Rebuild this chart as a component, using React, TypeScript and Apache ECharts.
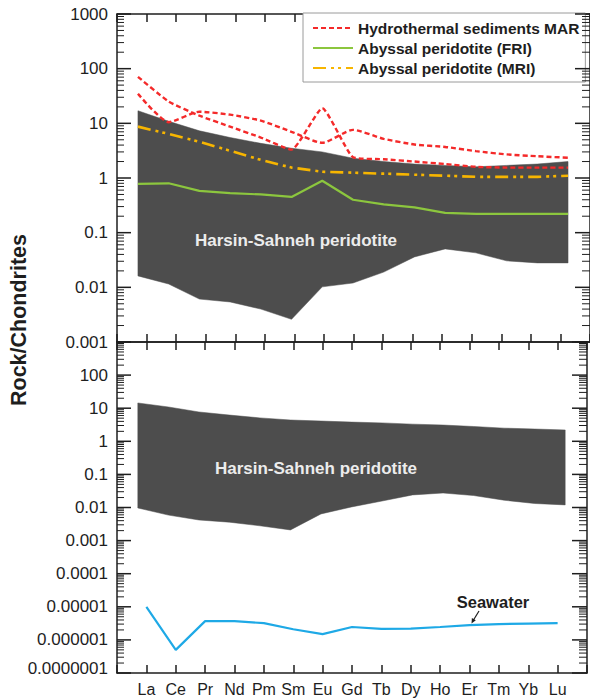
import React, { useEffect, useRef } from 'react';
import * as echarts from 'echarts';

// ---- categories ----
const ELEMENTS = ['La', 'Ce', 'Pr', 'Nd', 'Pm', 'Sm', 'Eu', 'Gd', 'Tb', 'Dy', 'Ho', 'Er', 'Tm', 'Yb', 'Lu'];

// ---- upper panel series (Rock/Chondrites) ----
const HYDRO_A = [71, 25, 13.8, 8.7, 5.5, 3.3, 19, 2.4, 2.2, 2.0, 1.8, 1.6, 1.55, 1.55, 1.55];
const HYDRO_B = [34.8, 10.5, 16.3, 14.4, 11.2, 7.0, 4.4, 7.6, 5.2, 4.1, 3.7, 3.1, 2.7, 2.5, 2.35];
const FRI = [0.78, 0.8, 0.58, 0.53, 0.5, 0.45, 0.89, 0.4, 0.33, 0.29, 0.23, 0.22, 0.22, 0.22, 0.22];
const MRI = [8.7, 6.4, 4.6, 3.15, 2.15, 1.55, 1.3, 1.25, 1.2, 1.15, 1.1, 1.05, 1.05, 1.05, 1.1];
const TOP_BAND_UPPER = [17.0, 10.9, 7.3, 5.5, 4.3, 3.5, 3.0, 2.3, 2.0, 1.8, 1.7, 1.6, 1.7, 1.8, 2.0];
const TOP_BAND_LOWER = [0.0162, 0.0115, 0.0061, 0.0054, 0.004, 0.0026, 0.0102, 0.012, 0.019, 0.036, 0.0505, 0.0427, 0.0305, 0.028, 0.028];

// ---- lower panel series ----
const BOTTOM_BAND_UPPER = [14.4, 10.9, 7.7, 6.2, 5.1, 4.4, 4.1, 3.8, 3.6, 3.3, 3.1, 2.8, 2.5, 2.35, 2.2];
const BOTTOM_BAND_LOWER = [0.0097, 0.0059, 0.0042, 0.0036, 0.0028, 0.0021, 0.0064, 0.0104, 0.0157, 0.024, 0.0274, 0.023, 0.0166, 0.0132, 0.012];
const SEAWATER = [1.0e-5, 5.0e-7, 3.7e-6, 3.7e-6, 3.2e-6, 2.1e-6, 1.5e-6, 2.45e-6, 2.15e-6, 2.2e-6, 2.45e-6, 2.8e-6, 3.0e-6, 3.1e-6, 3.2e-6];

// ---- tick labels ----
const TOP_Y_LABELS = ['0.001', '0.01', '0.1', '1', '10', '100', '1000'];
const BOTTOM_Y_LABELS = ['0.0000001', '0.000001', '0.00001', '0.0001', '0.001', '0.01', '0.1', '1', '10', '100', ''];

const FONT = '"Liberation Sans", Arial, Helvetica, sans-serif';
const INK = '#1e1e1e';
const BAND = '#4d4d4d';

function logTickData(minExp: number, maxExp: number) {
  const out: number[][] = [];
  for (let e = minExp; e <= maxExp; e++) {
    out.push([0, Math.pow(10, e), 1]);
    if (e < maxExp) {
      for (let m = 2; m <= 9; m++) out.push([0, m * Math.pow(10, e), 0]);
    }
  }
  return out;
}

const tickRender = (params: any, api: any) => {
  const v = api.value(1);
  const major = api.value(2) === 1;
  const pl = api.coord([0, v]);
  const pr = api.coord([16, v]);
  const ll = major ? 14 : 7;
  const lr = major ? 15 : 8;
  const st = { stroke: INK, lineWidth: major ? 1.5 : 1 };
  return {
    type: 'group',
    children: [
      { type: 'line', shape: { x1: pl[0], y1: pl[1], x2: pl[0] + ll, y2: pl[1] }, style: st },
      { type: 'line', shape: { x1: pr[0] - lr, y1: pr[1], x2: pr[0], y2: pr[1] }, style: st },
    ],
  };
};

const bandRender = (upper: number[], lower: number[]) => (params: any, api: any) => {
  const pts: number[][] = [];
  upper.forEach((v, i) => pts.push(api.coord([i + 1, v])));
  for (let i = lower.length - 1; i >= 0; i--) pts.push(api.coord([i + 1, lower[i]]));
  return { type: 'polygon', shape: { points: pts }, style: { fill: BAND, stroke: BAND, lineWidth: 0.5 } };
};

const toXY = (arr: number[]) => arr.map((v, i) => [i + 1, v]);

// Grid geometry
const GL = 117;
const GW = 474;

function xFrame(gridIndex: number, position: string, labels: boolean) {
  return {
    type: 'value',
    gridIndex,
    position,
    min: 0,
    max: 16,
    interval: 1,
    axisLine: { show: true, onZero: false, lineStyle: { color: INK, width: 1.5 } },
    axisTick: { show: true, inside: true, length: 8, lineStyle: { color: INK, width: 1.5 } },
    axisLabel: labels
      ? {
          show: true,
          margin: 8,
          fontSize: 16,
          fontFamily: FONT,
          color: INK,
          formatter: (v: number) => ELEMENTS[v - 1] ?? '',
        }
      : { show: false },
    splitLine: { show: false },
  };
}

function xHidden(gridIndex: number) {
  return { type: 'value', gridIndex, min: 0.318, max: 15.715, show: false, splitLine: { show: false } };
}

function yAxis(gridIndex: number, position: string, minExp: number, maxExp: number, labels: string[] | null) {
  return {
    type: 'log',
    logBase: 10,
    gridIndex,
    position,
    min: Math.pow(10, minExp),
    max: Math.pow(10, maxExp),
    interval: 1,
    axisLine: { show: true, onZero: false, lineStyle: { color: INK, width: 1.5 } },
    axisTick: { show: false },
    minorTick: { show: false },
    splitLine: { show: false },
    axisLabel: labels
      ? {
          show: true,
          margin: 9,
          fontSize: 17,
          fontFamily: FONT,
          color: INK,
          formatter: (v: number) => {
            const e = Math.round(Math.log10(v));
            const s = labels[e - minExp] ?? '';
            if (e === -7 && s) return '{lo|' + s + '}';
            return s;
          },
          rich: {
            lo: { fontSize: 17, fontFamily: FONT, color: INK, padding: [0, 0, 10, 0] },
          },
        }
      : { show: false },
  };
}

export default function App() {
  const ref = useRef<HTMLDivElement>(null);

  useEffect(() => {
    if (!ref.current) return;
    const chart = echarts.init(ref.current, undefined, { renderer: 'svg' });

    const option: any = {
      animation: false,
      backgroundColor: '#ffffff',
      grid: [
        { left: GL, top: 14, width: GW, height: 328 },
        { left: GL, top: 342, width: GW, height: 331 },
      ],
      xAxis: [
        xFrame(0, 'bottom', false),
        xFrame(0, 'top', false),
        xHidden(0),
        xFrame(1, 'bottom', true),
        xFrame(1, 'top', false),
        xHidden(1),
      ],
      yAxis: [
        yAxis(0, 'left', -3, 3, TOP_Y_LABELS),
        yAxis(0, 'right', -3, 3, null),
        yAxis(1, 'left', -7, 3, BOTTOM_Y_LABELS),
        yAxis(1, 'right', -7, 3, null),
      ],
      legend: {
        orient: 'vertical',
        left: 303,
        top: 13,
        itemWidth: 40,
        itemHeight: 14,
        itemGap: 4,
        padding: [7, 6, 6, 9],
        backgroundColor: '#ffffff',
        borderColor: '#9a9a9a',
        borderWidth: 1,
        selectedMode: false,
        itemStyle: { opacity: 0, borderWidth: 0 },
        textStyle: { fontFamily: FONT, fontSize: 15.5, fontWeight: 'bold', color: INK, lineHeight: 16 },
        data: ['Hydrothermal sediments MAR', 'Abyssal peridotite (FRI)', 'Abyssal peridotite (MRI)'],
      },
      graphic: [
        {
          type: 'text',
          x: 296,
          y: 240,
          z: 50,
          style: { text: 'Harsin-Sahneh peridotite', fill: '#ececec', fontSize: 17, fontWeight: 'bold', fontFamily: FONT, align: 'center', verticalAlign: 'middle' },
        },
        {
          type: 'text',
          x: 316,
          y: 468,
          z: 50,
          style: { text: 'Harsin-Sahneh peridotite', fill: '#ececec', fontSize: 17, fontWeight: 'bold', fontFamily: FONT, align: 'center', verticalAlign: 'middle' },
        },
        {
          type: 'text',
          x: 19,
          y: 320,
          rotation: Math.PI / 2,
          style: { text: 'Rock/Chondrites', fill: INK, fontSize: 21.5, fontWeight: 'bold', fontFamily: FONT, align: 'center', verticalAlign: 'middle' },
        },
        {
          type: 'text',
          x: 493,
          y: 602,
          z: 50,
          style: { text: 'Seawater', fill: INK, fontSize: 16.5, fontWeight: 'bold', fontFamily: FONT, align: 'center', verticalAlign: 'middle' },
        },
        {
          type: 'line',
          z: 50,
          shape: { x1: 479, y1: 611, x2: 473.5, y2: 620 },
          style: { stroke: INK, lineWidth: 1.2 },
        },
        {
          type: 'polygon',
          z: 50,
          shape: { points: [[471.5, 623.5], [475.8, 620.2], [471.9, 618.0]] },
          style: { fill: INK },
        },
      ],
      series: [
        // bands
        {
          type: 'custom',
          xAxisIndex: 2,
          yAxisIndex: 0,
          z: 1,
          silent: true,
          clip: false,
          data: [[1, 1]],
          renderItem: bandRender(TOP_BAND_UPPER, TOP_BAND_LOWER),
        },
        {
          type: 'custom',
          xAxisIndex: 5,
          yAxisIndex: 2,
          z: 1,
          silent: true,
          clip: false,
          data: [[1, 1]],
          renderItem: bandRender(BOTTOM_BAND_UPPER, BOTTOM_BAND_LOWER),
        },
        // log ticks
        {
          type: 'custom',
          xAxisIndex: 0,
          yAxisIndex: 0,
          z: 10,
          silent: true,
          clip: false,
          data: logTickData(-3, 3),
          encode: { x: 0, y: 1 },
          renderItem: tickRender,
        },
        {
          type: 'custom',
          xAxisIndex: 3,
          yAxisIndex: 2,
          z: 10,
          silent: true,
          clip: false,
          data: logTickData(-7, 3),
          encode: { x: 0, y: 1 },
          renderItem: tickRender,
        },
        // lines
        {
          name: 'Abyssal peridotite (FRI)',
          type: 'line',
          xAxisIndex: 2,
          yAxisIndex: 0,
          z: 3,
          symbol: 'none',
          data: toXY(FRI),
          color: '#8cc63e',
          lineStyle: { color: '#8cc63e', width: 2.2 },
        },
        {
          name: 'Abyssal peridotite (MRI)',
          type: 'line',
          xAxisIndex: 2,
          yAxisIndex: 0,
          z: 3,
          symbol: 'none',
          data: toXY(MRI),
          color: '#f7b500',
          lineStyle: { color: '#f7b500', width: 2.6, type: [13, 5, 3, 4, 3, 5] },
        },
        {
          name: 'Hydrothermal sediments MAR',
          type: 'line',
          xAxisIndex: 2,
          yAxisIndex: 0,
          z: 4,
          symbol: 'none',
          smooth: 0.15,
          data: toXY(HYDRO_A),
          color: '#f42a2a',
          lineStyle: { color: '#f42a2a', width: 2.4, type: [5, 3] },
        },
        {
          name: 'Hydrothermal sediments MAR',
          type: 'line',
          xAxisIndex: 2,
          yAxisIndex: 0,
          z: 4,
          symbol: 'none',
          smooth: 0.2,
          data: toXY(HYDRO_B),
          color: '#f42a2a',
          lineStyle: { color: '#f42a2a', width: 2.4, type: [5, 3] },
        },
        {
          name: 'Seawater',
          type: 'line',
          xAxisIndex: 3,
          yAxisIndex: 2,
          z: 3,
          symbol: 'none',
          data: toXY(SEAWATER),
          color: '#1ea9e6',
          lineStyle: { color: '#1ea9e6', width: 2.2 },
        },
      ],
    };

    chart.setOption(option);
    return () => {
      chart.dispose();
    };
  }, []);

  return (
    <div
      ref={ref}
      style={{ position: 'fixed', left: 0, top: 0, width: 590, height: 699, background: '#fff' }}
    />
  );
}
